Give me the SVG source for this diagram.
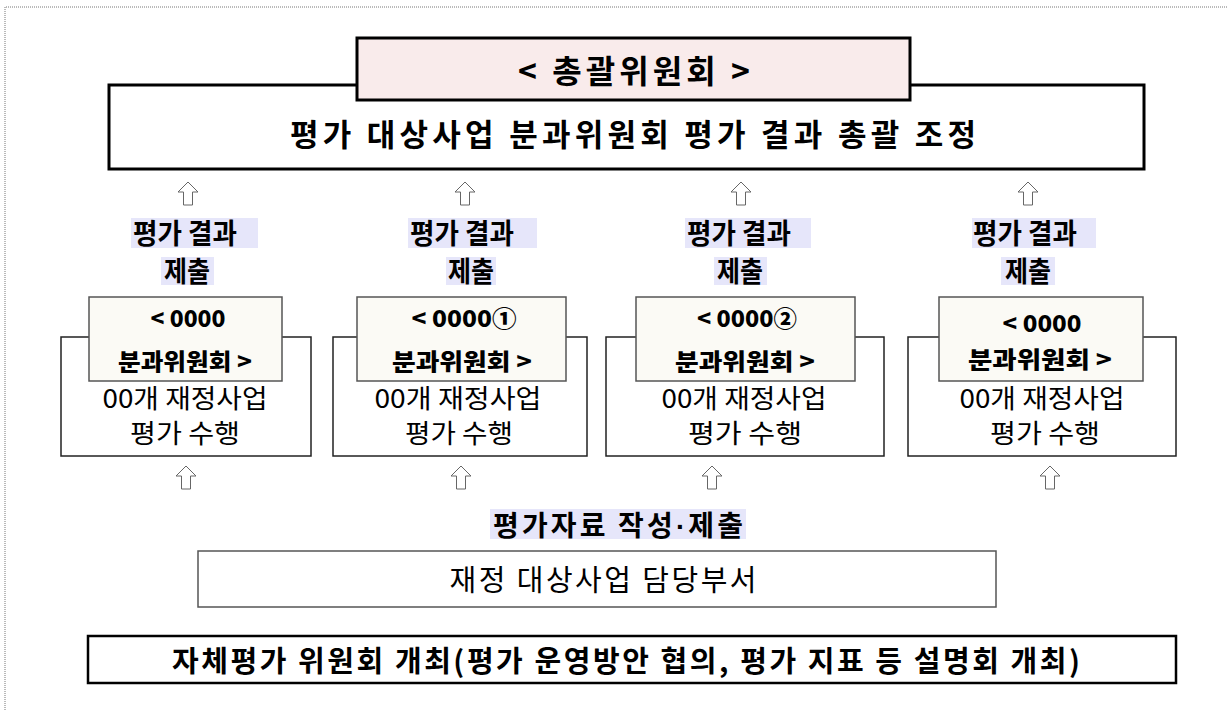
<svg xmlns="http://www.w3.org/2000/svg" width="1228" height="710" viewBox="0 0 1228 710">
<style>
text{font-family:"Noto Sans CJK KR","Noto Sans",sans-serif;fill:#000;text-anchor:middle}
.b{font-weight:bold}
.lbl{font-weight:bold;font-size:28px}
.hd{font-weight:900;font-size:23px}
.body{font-size:26px}
.hl{fill:#e6e6fa}
.outer{fill:#fff;stroke:#222;stroke-width:1.5}
.inner{fill:#fbfaf5;stroke:#555;stroke-width:1.5}
.arrow{fill:#fff;stroke:#666;stroke-width:1}
</style>
<defs>
<path id="up" d="M0,0 L10,10 L4.5,10 L4.5,23 L-4.5,23 L-4.5,10 L-10,10 Z"/>
</defs>
<rect width="1228" height="710" fill="#fff"/>
<path d="M5,710 L5,7 L1228,7" fill="none" stroke="#777" stroke-width="1" stroke-dasharray="1,1"/>

<g id="main">
<rect x="109" y="85" width="1035" height="84" fill="#fff" stroke="#000" stroke-width="3"/>
<text x="633" y="146" class="b" font-size="31" textLength="686" lengthAdjust="spacing">평가 대상사업 분과위원회 평가 결과 총괄 조정</text>
</g>
<g id="head">
<rect x="357" y="38" width="553" height="62" fill="#f9ebeb" stroke="#000" stroke-width="3"/>
<text x="634" y="83" class="b" font-size="32" textLength="232" lengthAdjust="spacing">&lt; 총괄위원회 &gt;</text>
</g>

<g id="connectors">
<use href="#up" x="188" y="182" class="arrow"/>
<use href="#up" x="465" y="182" class="arrow"/>
<use href="#up" x="741" y="182" class="arrow"/>
<use href="#up" x="1028" y="182" class="arrow"/>
<use href="#up" x="186" y="466" class="arrow"/>
<use href="#up" x="461" y="466" class="arrow"/>
<use href="#up" x="712" y="466" class="arrow"/>
<use href="#up" x="1050" y="466" class="arrow"/>
</g>

<g id="label1">
<rect class="hl" x="131" y="218" width="127" height="30"/>
<text x="185" y="244" class="lbl" textLength="104" lengthAdjust="spacingAndGlyphs">평가 결과</text>
<rect class="hl" x="161" y="257" width="53" height="28"/>
<text x="187" y="282" class="lbl" textLength="46" lengthAdjust="spacingAndGlyphs">제출</text>
</g>
<g id="label2">
<rect class="hl" x="408" y="218" width="129" height="30"/>
<text x="462" y="244" class="lbl" textLength="104" lengthAdjust="spacingAndGlyphs">평가 결과</text>
<rect class="hl" x="446" y="257" width="50" height="28"/>
<text x="471" y="282" class="lbl" textLength="46" lengthAdjust="spacingAndGlyphs">제출</text>
</g>
<g id="label3">
<rect class="hl" x="685" y="218" width="126" height="30"/>
<text x="739" y="244" class="lbl" textLength="104" lengthAdjust="spacingAndGlyphs">평가 결과</text>
<rect class="hl" x="714" y="257" width="53" height="28"/>
<text x="740" y="282" class="lbl" textLength="46" lengthAdjust="spacingAndGlyphs">제출</text>
</g>
<g id="label4">
<rect class="hl" x="972" y="218" width="124" height="30"/>
<text x="1025" y="244" class="lbl" textLength="104" lengthAdjust="spacingAndGlyphs">평가 결과</text>
<rect class="hl" x="1001" y="257" width="54" height="28"/>
<text x="1028" y="282" class="lbl" textLength="46" lengthAdjust="spacingAndGlyphs">제출</text>
</g>

<g id="sub1">
<rect class="outer" x="61" y="337" width="250" height="119"/>
<rect class="inner" x="89" y="297" width="193" height="84"/>
<text x="188" y="327" class="hd" textLength="75" lengthAdjust="spacingAndGlyphs">&lt; 0000</text>
<text x="185" y="370" class="hd" textLength="134" lengthAdjust="spacingAndGlyphs">분과위원회 &gt;</text>
<text x="185" y="408" class="body" textLength="165" lengthAdjust="spacingAndGlyphs">00개 재정사업</text>
<text x="185" y="443" class="body" textLength="110" lengthAdjust="spacingAndGlyphs">평가 수행</text>
</g>
<g id="sub2">
<rect class="outer" x="333" y="337" width="254" height="119"/>
<rect class="inner" x="357" y="297" width="209" height="84"/>
<text x="464" y="327" class="hd" textLength="105" lengthAdjust="spacingAndGlyphs">&lt; 0000①</text>
<text x="462" y="370" class="hd" textLength="140" lengthAdjust="spacingAndGlyphs">분과위원회 &gt;</text>
<text x="458" y="408" class="body" textLength="167" lengthAdjust="spacingAndGlyphs">00개 재정사업</text>
<text x="459" y="443" class="body" textLength="108" lengthAdjust="spacingAndGlyphs">평가 수행</text>
</g>
<g id="sub3">
<rect class="outer" x="606" y="337" width="278" height="119"/>
<rect class="inner" x="636" y="297" width="219" height="84"/>
<text x="747" y="327" class="hd" textLength="100" lengthAdjust="spacingAndGlyphs">&lt; 0000②</text>
<text x="745" y="370" class="hd" textLength="140" lengthAdjust="spacingAndGlyphs">분과위원회 &gt;</text>
<text x="744" y="408" class="body" textLength="165" lengthAdjust="spacingAndGlyphs">00개 재정사업</text>
<text x="745" y="443" class="body" textLength="114" lengthAdjust="spacingAndGlyphs">평가 수행</text>
</g>
<g id="sub4">
<rect class="outer" x="908" y="337" width="268" height="119"/>
<rect class="inner" x="939" y="297" width="204" height="84"/>
<text x="1042" y="332" class="hd" font-size="25" textLength="79" lengthAdjust="spacingAndGlyphs">&lt; 0000</text>
<text x="1040" y="368" class="hd" font-size="25" textLength="144" lengthAdjust="spacingAndGlyphs">분과위원회 &gt;</text>
<text x="1042" y="408" class="body" textLength="165" lengthAdjust="spacingAndGlyphs">00개 재정사업</text>
<text x="1045" y="443" class="body" textLength="110" lengthAdjust="spacingAndGlyphs">평가 수행</text>
</g>

<g id="dept">
<rect class="hl" x="490" y="509" width="256" height="30"/>
<text x="618" y="536" class="b" font-size="28" textLength="250" lengthAdjust="spacing">평가자료 작성<tspan font-family="Liberation Sans" font-weight="bold">·</tspan>제출</text>
<rect x="198" y="551" width="798" height="56" fill="#fff" stroke="#555" stroke-width="1.5"/>
<text x="603" y="591" font-size="29" textLength="307" lengthAdjust="spacing">재정 대상사업 담당부서</text>
</g>

<g id="selfeval">
<rect x="88" y="636" width="1088" height="47" fill="#fff" stroke="#000" stroke-width="2.5"/>
<text x="626" y="672" class="b" font-size="29" textLength="908" lengthAdjust="spacing">자체평가 위원회 개최(평가 운영방안 협의, 평가 지표 등 설명회 개최)</text>
</g>
</svg>
